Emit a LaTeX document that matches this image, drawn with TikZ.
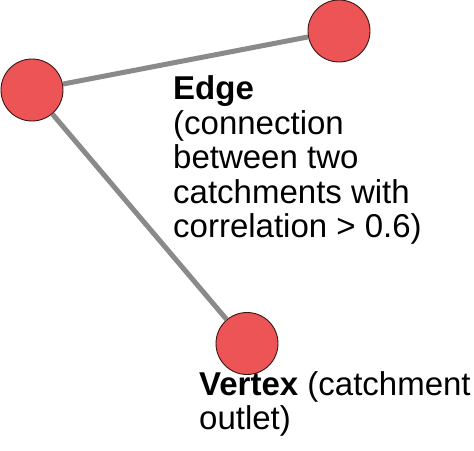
\documentclass[tikz,border=0pt]{standalone}
\usepackage{fontspec}
\setmainfont{Liberation Sans}
\usepackage{tikz}
\usetikzlibrary{positioning}

\definecolor{dotred}{RGB}{236,84,86}
\definecolor{dotrim}{RGB}{60,20,20}
\definecolor{linkgray}{RGB}{138,138,138}

\begin{document}
\begin{tikzpicture}[
  x=1pt,
  y=1pt,
  vertexdot/.style={
    circle,
    draw=dotrim,
    fill=dotred,
    line width=0.9pt,
    minimum size=62pt,
    inner sep=0pt
  },
  edgeline/.style={draw=linkgray, line width=5pt},
  labeltext/.style={
    align=left,
    inner sep=0pt,
    anchor=base west,
    font=\fontsize{33}{34.5}\selectfont
  }
]
  \useasboundingbox (0,0) rectangle (474,450);

  % Three catchments of the network.
  \node[vertexdot] (left) at (32,360) {};
  \node[vertexdot] (topright) at (339,419) {};
  \node[vertexdot] (bottom) at (247,106.5) {};

  % Connections between them.
  \draw[edgeline] (left) -- (topright);
  \draw[edgeline] (left) -- (bottom);

  % Labels (anchored at the baseline of their last line).
  \node[labeltext] (edgelabel) at (173,212) {\textbf{Edge}\\(connection\\between two\\catchments with\\correlation > 0.6)};
  \node[labeltext] (vertexlabel) at (199,20) {\textbf{Vertex} (catchment\\outlet)};
\end{tikzpicture}
\end{document}
